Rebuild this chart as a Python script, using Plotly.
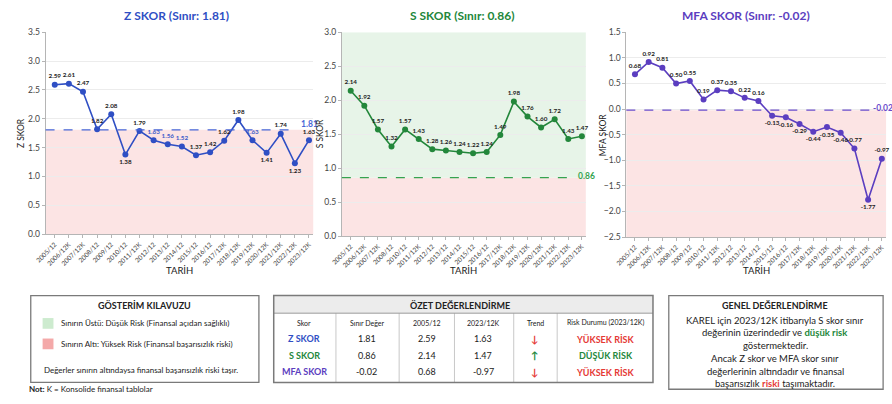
import plotly.graph_objects as go

W, H = 892, 404

# ---- data -------------------------------------------------------------
periods = ["2005/12", "2006/12K", "2007/12K", "2008/12", "2009/12", "2010/12",
           "2011/12K", "2012/12", "2013/12", "2014/12", "2015/12", "2016/12",
           "2017/12K", "2018/12K", "2019/12K", "2020/12K", "2021/12K",
           "2022/12K", "2023/12K"]
s_periods = [p for p in periods if p != "2009/12"]

z_values = [2.59, 2.61, 2.47, 1.82, 2.08, 1.38, 1.79, 1.63, 1.56, 1.52,
            1.37, 1.42, 1.62, 1.98, 1.63, 1.41, 1.74, 1.23, 1.63]
s_values = [2.14, 1.92, 1.57, 1.32, 1.57, 1.43, 1.28, 1.26, 1.24, 1.22,
            1.24, 1.49, 1.98, 1.76, 1.60, 1.72, 1.43, 1.47]
mfa_values = [0.68, 0.92, 0.81, 0.50, 0.55, 0.19, 0.37, 0.35, 0.22, 0.16,
              -0.13, -0.16, -0.29, -0.44, -0.35, -0.46, -0.77, -1.77, -0.97]

z_limit = 1.81
s_limit = 0.86
mfa_limit = -0.02

score_names = ["Z SKOR", "S SKOR", "MFA SKOR"]
legend_items = ["Sınırın Üstü: Düşük Risk (Finansal açıdan sağlıklı)",
                "Sınırın Altı: Yüksek Risk (Finansal başarısızlık riski)"]

FONT = "Lato"
DARK = "#222222"
BLUE = "#2F4FC4"
GREEN = "#23873B"
PURPLE = "#5B3EC0"
RED = "#E53935"
PINK = "#FCE4E4"
LIGHTGREEN = "#E7F4E8"


def px(x):
    return x / W


def py(y):
    return 1 - y / H


panels = [
    dict(name="Z SKOR", x=periods, y=z_values, limit=z_limit, color=BLUE,
         dash_color="#4766D6",
         xpx=(35, 306), ypx=(28, 235), yr=(0, 3.5), xr=(-0.65, 18.3),
         above_bg=None, title_x=168, ytitle_x=10, limit_label_x=292,
         line_end=0.94, label_shift=-1,
         pos=["top center"] * 19,
         below=[5, 15, 17], blue_labels=[7, 8, 9, 14]),
    dict(name="S SKOR", x=s_periods, y=s_values, limit=s_limit, color=GREEN,
         dash_color="#35A34F",
         xpx=(335, 582), ypx=(28, 237), yr=(0, 3.0), xr=(-0.65, 17.29),
         above_bg=LIGHTGREEN, title_x=457, ytitle_x=313, limit_label_x=572,
         line_end=0.955, label_shift=-5,
         pos=["top center"] * 18, below=[], blue_labels=[]),
    dict(name="MFA SKOR", x=periods, y=mfa_values, limit=mfa_limit, color=PURPLE,
         dash_color="#6A4CCB",
         xpx=(623, 886), ypx=(28, 238), yr=(-2.5, 1.5), xr=(-0.63, 18.31),
         above_bg=None, title_x=744, ytitle_x=599, limit_label_x=871,
         line_end=0.94, label_shift=-5,
         pos=["top center"] * 19,
         below=[10, 11, 12, 13, 14, 15, 17], blue_labels=[]),
]

fig = go.Figure()
shapes = []
annotations = []
layout_axes = {}

for i, p in enumerate(panels, start=1):
    xa = "x" if i == 1 else f"x{i}"
    ya = "y" if i == 1 else f"y{i}"
    pos = list(p["pos"])
    for k in p["below"]:
        pos[k] = "bottom center"
    tcolors = [DARK] * len(p["y"])
    for k in p["blue_labels"]:
        tcolors[k] = "#3D5BC9"

    fig.add_trace(go.Scatter(
        x=p["x"], y=p["y"], xaxis=xa, yaxis=ya,
        mode="lines+markers+text",
        line=dict(color=p["color"], width=1.6),
        marker=dict(color=p["color"], size=6),
        text=[f"<b>{v:.2f}</b>" for v in p["y"]],
        textposition=pos,
        textfont=dict(size=6.3, color=tcolors, family=FONT),
        cliponaxis=False, showlegend=False, hoverinfo="x+y",
    ))

    x0, x1 = p["xpx"]
    y0, y1 = p["ypx"]
    layout_axes["xaxis" if i == 1 else f"xaxis{i}"] = dict(
        domain=[px(x0), px(x1)], anchor=ya, type="category",
        range=list(p["xr"]), tickangle=-45,
        tickfont=dict(size=6.5, color="#444", family=FONT),
        showline=True, linecolor="#b5b5b5", linewidth=1,
        ticks="outside", ticklen=3, tickcolor="#b5b5b5",
        showgrid=False, zeroline=False,
    )
    layout_axes["yaxis" if i == 1 else f"yaxis{i}"] = dict(
        domain=[py(y1), py(y0)], anchor=xa, range=list(p["yr"]),
        dtick=0.5, tickformat=".1f",
        tickfont=dict(size=8.5, color="#444", family=FONT),
        showline=True, linecolor="#b5b5b5", linewidth=1,
        ticks="outside", ticklen=3, tickcolor="#b5b5b5",
        showgrid=True, gridcolor="#ececec", zeroline=False,
    )

    # risk zones
    shapes.append(dict(type="rect", xref=f"{xa} domain", yref=ya,
                       x0=0, x1=1, y0=p["yr"][0], y1=p["limit"],
                       fillcolor=PINK, line=dict(width=0), layer="below"))
    if p["above_bg"]:
        shapes.append(dict(type="rect", xref=f"{xa} domain", yref=ya,
                           x0=0, x1=1, y0=p["limit"], y1=p["yr"][1],
                           fillcolor=p["above_bg"], line=dict(width=0),
                           layer="below"))
    # threshold line and its label
    shapes.append(dict(type="line", xref=f"{xa} domain", yref=ya,
                       x0=0, x1=p["line_end"], y0=p["limit"], y1=p["limit"],
                       line=dict(color=p["dash_color"], width=1.2, dash="dash")))
    annotations.append(dict(xref="paper", yref=ya, x=px(p["limit_label_x"]),
                            y=p["limit"], xanchor="left", yanchor="bottom",
                            yshift=p["label_shift"],
                            text=f"<b>{p['limit']:.2f}</b>", showarrow=False,
                            font=dict(size=8.5, color=p["dash_color"], family=FONT)))
    # titles
    annotations.append(dict(xref="paper", yref="paper", x=px(p["title_x"]),
                            y=py(11), xanchor="center", yanchor="middle",
                            text=f"<b>{p['name']} (Sınır: {p['limit']:.2f})</b>",
                            showarrow=False,
                            font=dict(size=12, color=p["color"], family=FONT)))
    annotations.append(dict(xref="paper", yref="paper", x=px(p["ytitle_x"]),
                            y=py((y0 + y1) / 2), textangle=-90,
                            xanchor="center", yanchor="middle",
                            text=p["name"], showarrow=False,
                            font=dict(size=8.5, color=DARK, family=FONT)))
    annotations.append(dict(xref="paper", yref="paper", x=px((x0 + x1) / 2),
                            y=py(272), xanchor="center", yanchor="middle",
                            text="TARİH", showarrow=False,
                            font=dict(size=9.5, color=DARK, family=FONT)))


def box(x0, y0, x1, y1, color="#8a8a8a", width=1.3, fill=None):
    shapes.append(dict(type="rect", xref="paper", yref="paper",
                       x0=px(x0), x1=px(x1), y0=py(y1), y1=py(y0),
                       line=dict(color=color, width=width),
                       fillcolor=fill if fill else "rgba(0,0,0,0)"))


def label(x, y, text, size=8, color=DARK, anchor="center"):
    annotations.append(dict(xref="paper", yref="paper", x=px(x), y=py(y),
                            xanchor=anchor, yanchor="middle", text=text,
                            showarrow=False,
                            font=dict(size=size, color=color, family=FONT)))


# ---- legend box --------------------------------------------------------
box(20, 298, 251, 387, color="#7a7a7a")
label(135, 308, "<b>GÖSTERİM KILAVUZU</b>", size=9)
box(32, 321, 43, 332, color="rgba(0,0,0,0)", width=0, fill="#CDEBCF")
box(32, 342, 43, 353, color="rgba(0,0,0,0)", width=0, fill="#F4A9A9")
label(49, 326.5, legend_items[0], size=8, anchor="left")
label(49, 347.5, legend_items[1], size=8, anchor="left")
label(31, 374, "Değerler sınırın altındaysa finansal başarısızlık riski taşır.",
      size=8, anchor="left")
label(16, 394, "<b>Not:</b> K = Konsolide finansal tablolar", size=8, anchor="left")

# ---- summary table -----------------------------------------------------
box(266, 298, 650, 316, color="rgba(0,0,0,0)", width=0, fill="#ECECEC")
for cx in (329, 393, 449, 509, 553):
    shapes.append(dict(type="line", xref="paper", yref="paper",
                       x0=px(cx), x1=px(cx), y0=py(316), y1=py(387),
                       line=dict(color="#c8c8c8", width=1)))
shapes.append(dict(type="line", xref="paper", yref="paper",
                   x0=px(266), x1=px(650), y0=py(316), y1=py(316),
                   line=dict(color="#9a9a9a", width=1)))
box(266, 298, 650, 387, color="#7a7a7a", width=1.5)
label(455, 307.5, "<b>ÖZET DEĞERLENDİRME</b>", size=9)

col_x = [297, 360, 421, 478, 531, 602]
headers = ["Skor", "Sınır Değer", "2005/12", "2023/12K", "Trend",
           "Risk Durumu (2023/12K)"]
for cx, h in zip(col_x, headers):
    label(cx, 326, h, size=7)

series = [z_values, s_values, mfa_values]
limits = [z_limit, s_limit, mfa_limit]
name_colors = [BLUE, GREEN, PURPLE]
for r, (nm, vals, lim, nc) in enumerate(zip(score_names, series, limits, name_colors)):
    ry = 342 + r * 17
    above = vals[-1] >= lim
    label(col_x[0], ry, f"<b>{nm}</b>", size=9, color=nc)
    label(col_x[1], ry, f"{lim:.2f}", size=9)
    label(col_x[2], ry, f"{vals[0]:.2f}", size=9)
    label(col_x[3], ry, f"{vals[-1]:.2f}", size=9)
    label(col_x[4], ry, "<b>↑</b>" if above else "<b>↓</b>", size=10,
          color=GREEN if above else RED)
    label(col_x[5], ry, "<b>DÜŞÜK RİSK</b>" if above else "<b>YÜKSEK RİSK</b>",
          size=9, color=GREEN if above else RED)

# ---- general assessment box ---------------------------------------------
box(666, 298, 883, 394, color="#7a7a7a")
label(774, 307.5, "<b>GENEL DEĞERLENDİRME</b>", size=9)
summary_lines = [
    "KAREL için 2023/12K itibarıyla S skor sınır",
    f"değerinin üzerindedir ve <b><span style='color:{GREEN}'>düşük risk</span></b>",
    "göstermektedir.",
    "Ancak Z skor ve MFA skor sınır",
    "değerlerinin altındadır ve finansal",
    f"başarısızlık <b><span style='color:{RED}'>riski</span></b> taşımaktadır.",
]
for k, line in enumerate(summary_lines):
    label(774, 323 + k * 13.1, line, size=9.5)

fig.update_layout(
    width=W, height=H, autosize=False,
    margin=dict(l=0, r=0, t=0, b=0),
    paper_bgcolor="white", plot_bgcolor="white",
    shapes=shapes, annotations=annotations,
    font=dict(family=FONT, color=DARK),
    **layout_axes,
)

fig.write_html("out.html")
